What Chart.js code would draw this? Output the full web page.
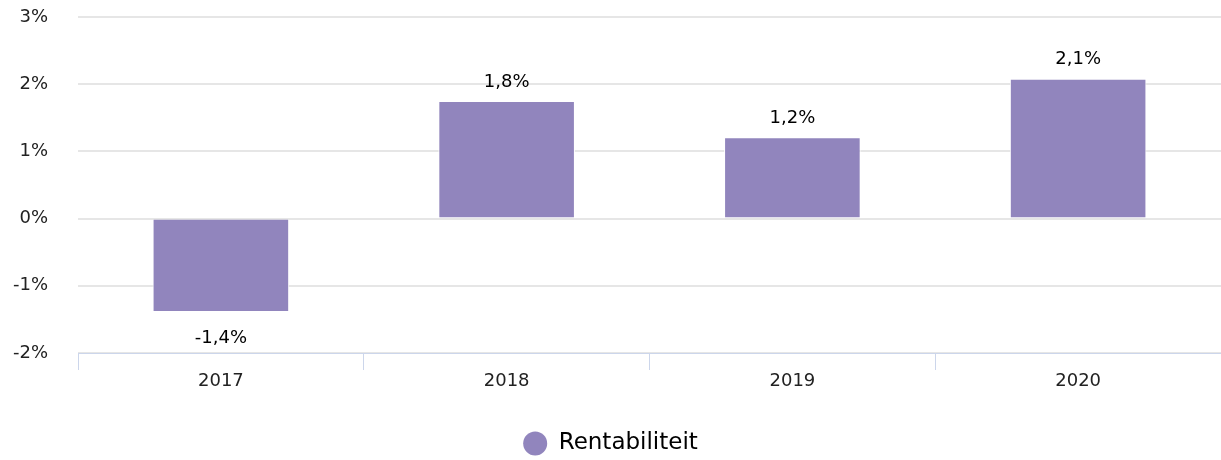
<!DOCTYPE html>
<html>
<head>
<meta charset="utf-8">
<script src="https://cdn.jsdelivr.net/npm/chart.js@4"></script>
<style>
  html, body { margin: 0; padding: 0; background: #fff; }
  #wrap { width: 1221px; height: 460px; }
</style>
</head>
<body>
<div id="wrap"><canvas id="chart" width="1221" height="460"></canvas></div>
<script>
// Gegevens
const years = ['2017', '2018', '2019', '2020'];
const rentabiliteit = [-1.39, 1.75, 1.21, 2.08];
const yTicks = [-2, -1, 0, 1, 2, 3];

const barColor = '#9185bd';
const fontFamily = '"DejaVu Sans", Verdana, sans-serif';

function fmtPct(v) {
    return v.toFixed(1).replace('.', ',') + '%';
}

// Labels boven/onder de staven
const valueLabels = {
    id: 'valueLabels',
    afterDatasetsDraw(chart) {
        const ctx = chart.ctx;
        const meta = chart.getDatasetMeta(0);
        ctx.save();
        ctx.font = '18px ' + fontFamily;
        ctx.fillStyle = '#000';
        ctx.textAlign = 'center';
        ctx.textBaseline = 'middle';
        meta.data.forEach((bar, i) => {
            const v = chart.data.datasets[0].data[i];
            const y = v >= 0 ? bar.y - 19 : bar.y + 26;
            ctx.fillText(fmtPct(v), bar.x, y);
        });
        ctx.restore();
    }
};

new Chart(document.getElementById('chart'), {
    type: 'bar',
    data: {
        labels: years,
        datasets: [{
            label: 'Rentabiliteit',
            data: rentabiliteit,
            backgroundColor: barColor,
            borderColor: '#ffffff',
            borderWidth: 1,
            barPercentage: 0.478,
            categoryPercentage: 1.0
        }]
    },
    options: {
        responsive: false,
        animation: false,
        layout: { padding: { left: 0, right: 0, top: 17, bottom: -5 } },
        scales: {
            x: {
                afterFit(axis) { axis.height = 73; },
                grid: {
                    offset: true,
                    drawOnChartArea: false,
                    drawTicks: true,
                    tickLength: 17,
                    color: '#ccd6eb'
                },
                border: { color: '#ccd6eb', width: 1 },
                ticks: {
                    color: '#222',
                    padding: 1,
                    font: { family: fontFamily, size: 18 }
                }
            },
            y: {
                min: yTicks[0],
                max: yTicks[yTicks.length - 1],
                afterBuildTicks(axis) {
                    axis.ticks = yTicks.map(v => ({ value: v }));
                },
                afterFit(axis) { axis.width = 78; },
                grid: {
                    color: '#e6e6e6',
                    lineWidth: 2,
                    drawTicks: true,
                    tickLength: 30,
                    tickColor: 'rgba(0,0,0,0)'
                },
                border: { display: false },
                ticks: {
                    color: '#222',
                    padding: 0,
                    font: { family: fontFamily, size: 18 },
                    callback: v => v + '%'
                }
            }
        },
        plugins: {
            tooltip: { enabled: false },
            legend: {
                position: 'bottom',
                labels: {
                    usePointStyle: true,
                    pointStyle: 'circle',
                    pointStyleWidth: 24,
                    boxHeight: 17,
                    color: '#333',
                    padding: 6,
                    font: { family: fontFamily, size: 23 },
                    generateLabels(chart) {
                        return [{
                            text: 'Rentabiliteit',
                            fillStyle: barColor,
                            strokeStyle: barColor,
                            lineWidth: 0,
                            pointStyle: 'circle',
                            datasetIndex: 0
                        }];
                    }
                }
            }
        }
    },
    plugins: [valueLabels]
});
</script>
</body>
</html>
